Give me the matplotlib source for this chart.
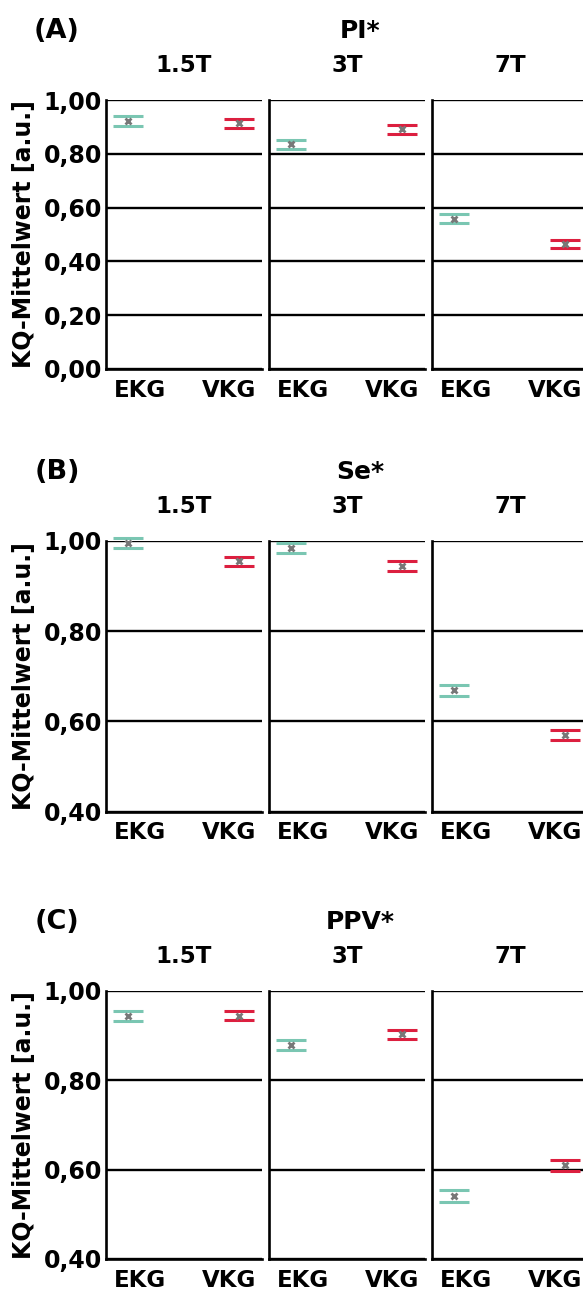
import matplotlib
matplotlib.use("Agg")
import matplotlib.pyplot as plt

plt.rcParams["font.family"] = ["DejaVu Sans"]
plt.rcParams["font.weight"] = "bold"

W, H = 583, 1293

# data
groups = ["EKG", "VKG"]
fields = ["1.5T", "3T", "7T"]
panel_letters = ["(A)", "(B)", "(C)"]
panel_titles = ["PI*", "Se*", "PPV*"]

pi_ekg = [0.922, 0.835, 0.559]
pi_ekg_err = [0.017, 0.017, 0.017]
pi_vkg = [0.913, 0.891, 0.465]
pi_vkg_err = [0.016, 0.016, 0.016]

se_ekg = [0.994, 0.984, 0.669]
se_ekg_err = [0.011, 0.011, 0.012]
se_vkg = [0.955, 0.945, 0.569]
se_vkg_err = [0.010, 0.011, 0.011]

ppv_ekg = [0.943, 0.879, 0.541]
ppv_ekg_err = [0.011, 0.011, 0.013]
ppv_vkg = [0.944, 0.903, 0.610]
ppv_vkg_err = [0.010, 0.010, 0.0125]

pi_ticks = [0.0, 0.2, 0.4, 0.6, 0.8, 1.0]
se_ticks = [0.4, 0.6, 0.8, 1.0]
ppv_ticks = [0.4, 0.6, 0.8, 1.0]

panels = [
    (pi_ekg, pi_ekg_err, pi_vkg, pi_vkg_err, pi_ticks),
    (se_ekg, se_ekg_err, se_vkg, se_vkg_err, se_ticks),
    (ppv_ekg, ppv_ekg_err, ppv_vkg, ppv_vkg_err, ppv_ticks),
]

EKG_COL = "#7ac6b2"
VKG_COL = "#dc1f3f"
MARK_COL = "#777777"

# layout in pixels
facet_left = [106, 269, 432]
facet_w = 156
axes_top = [100, 540.7, 990.7]
axes_bot = [369, 811.7, 1259]

fig = plt.figure(figsize=(W / 100, H / 100), dpi=100)


def fx(px):
    return px / W


def fy(py):
    return 1 - py / H


for p, (ekg, ekg_err, vkg, vkg_err, ticks) in enumerate(panels):
    top, bot = axes_top[p], axes_bot[p]
    for j, field in enumerate(fields):
        ax = fig.add_axes([fx(facet_left[j]), fy(bot), facet_w / W, (bot - top) / H])
        ax.set_xlim(-0.198, 1.207)
        ax.set_ylim(ticks[0], ticks[-1])
        ax.set_yticks(ticks)
        ax.grid(axis="y", color="black", linewidth=1.7)
        ax.set_axisbelow(True)
        for val, err, col, x in ((ekg[j], ekg_err[j], EKG_COL, 0), (vkg[j], vkg_err[j], VKG_COL, 1)):
            ax.errorbar([x], [val], yerr=[err], fmt="none", ecolor=col,
                        elinewidth=0, capsize=11, capthick=2.2, clip_on=False, zorder=3)
            ax.plot([x], [val], marker="x", color=MARK_COL, markersize=5,
                    markeredgewidth=2, linestyle="none", clip_on=False, zorder=4)
        # category labels sit a bit inside the facet, as in the reference
        ax.set_xticks([0.11, 0.91])
        ax.set_xticklabels(groups)
        ax.tick_params(axis="x", length=0, pad=7, labelsize=16.5)
        ax.tick_params(axis="y", length=0, pad=3, labelsize=17)
        if j == 0:
            ax.set_yticklabels([f"{t:.2f}".replace(".", ",") for t in ticks])
        else:
            ax.set_yticklabels([])
        for s in ("top", "right"):
            ax.spines[s].set_visible(False)
        for s in ("left", "bottom"):
            ax.spines[s].set_linewidth(1.9)
            ax.spines[s].set_color("black")
        for lab in ax.get_xticklabels() + ax.get_yticklabels():
            lab.set_fontweight("bold")
        fig.text(fx(facet_left[j] + facet_w / 2), fy(top - 34), field,
                 ha="center", va="center", fontsize=16.5, fontweight="bold")
    fig.text(fx(57), fy(top - 69), panel_letters[p], ha="center", va="center",
             fontsize=19.5, fontweight="bold")
    fig.text(fx(360), fy(top - 69), panel_titles[p], ha="center", va="center",
             fontsize=18, fontweight="bold")
    fig.text(fx(24), fy((top + bot) / 2), "KQ-Mittelwert [a.u.]", rotation=90,
             ha="center", va="center", fontsize=17, fontweight="bold")

fig.savefig("out.png", dpi=100)
